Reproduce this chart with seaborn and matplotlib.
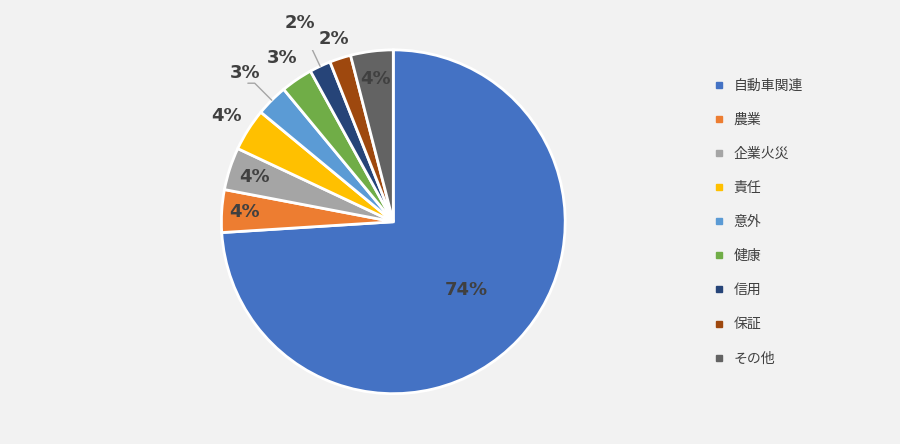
import numpy as np
import matplotlib
matplotlib.use("Agg")
import matplotlib.pyplot as plt
import seaborn as sns

categories = ['自動車関連', '農業', '企業火災', '責任', '意外', '健康', '信用', '保証', 'その他']
values = [74, 4, 4, 4, 3, 3, 2, 2, 4]
colors = ['#4472c4', '#ed7d31', '#a5a5a5', '#ffc000', '#5b9bd5', '#70ad47', '#264478', '#9e480e', '#636363']
label_r = [0.58, 0.87, 0.85, 1.15, 1.22, 1.15, 1.28, 1.12, 0.84]
leader = [False, False, False, False, True, False, True, False, False]

sns.set_theme(style='white')
plt.rcParams['font.family'] = ['Noto Sans CJK JP', 'DejaVu Sans']

fig = plt.figure(figsize=(9, 4.44), dpi=100)
fig.patch.set_facecolor('#f2f2f2')
ax = fig.add_axes([0.437 - 0.191, 0.113, 0.382, 0.775])
ax.set_facecolor('#f2f2f2')

wedges, _ = ax.pie(values, colors=colors, startangle=90, counterclock=False,
                   wedgeprops=dict(edgecolor='white', linewidth=2))
ax.set_aspect('equal')

for w, v, r, ld in zip(wedges, values, label_r, leader):
    ang = np.deg2rad((w.theta1 + w.theta2) / 2)
    x, y = r * np.cos(ang), r * np.sin(ang)
    ax.text(x, y, f'{v}%', ha='center', va='center', fontsize=13,
            fontweight='bold', color='#404040', family='DejaVu Sans')
    if ld:
        ax.plot([1.0 * np.cos(ang), (r - 0.08) * np.cos(ang), (r - 0.08) * np.cos(ang) - 0.04],
                [1.0 * np.sin(ang), (r - 0.08) * np.sin(ang), (r - 0.08) * np.sin(ang)],
                color='#a5a5a5', linewidth=1)

ax.set_xlim(-1.0, 1.0)
ax.set_ylim(-1.0, 1.0)
ax.set_axis_off()

handles = [plt.Line2D([], [], marker='s', linestyle='', color=c, markersize=5) for c in colors]
fig.legend(handles, categories, loc='center left', bbox_to_anchor=(0.77, 0.5),
           frameon=False, fontsize=10, labelspacing=1.45, handletextpad=0.0,
           labelcolor='#404040')

fig.savefig('out.png', dpi=100, facecolor=fig.get_facecolor())
